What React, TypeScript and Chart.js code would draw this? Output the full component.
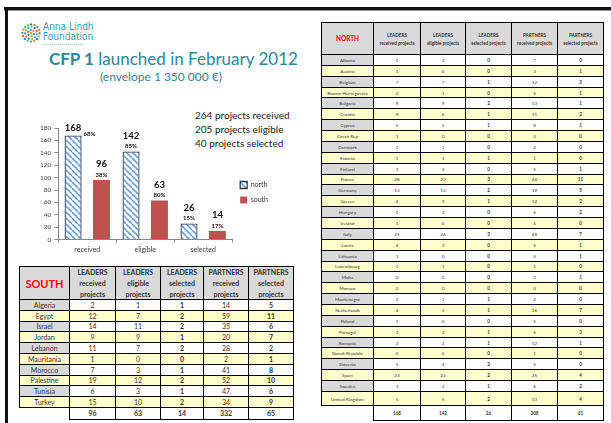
import React, { useEffect, useRef } from 'react';
import { Chart, registerables } from 'chart.js';

Chart.register(...registerables);

// ---------- chart data ----------
const categories = ['received', 'eligible', 'selected'];
const northValues = [168, 142, 26];
const southValues = [96, 63, 14];
const northPct = [68, 85, 15];
const southPct = [38, 80, 17];
const yMin = 0;
const yMax = 180;
const yStep = 20;
const seriesNames = ['north', 'south'];

const summaryLines = ['264 projects received', '205 projects eligible', '40 projects selected'];

// ---------- south table ----------
const southCountries = ['Algeria', 'Egypt', 'Israel', 'Jordan', 'Lebanon', 'Mauritania', 'Morocco', 'Palestine', 'Tunisia', 'Turkey'];
const southLeadersReceived = [2, 12, 14, 9, 11, 1, 7, 19, 6, 15];
const southLeadersEligible = [1, 7, 11, 9, 7, 0, 3, 12, 3, 10];
const southLeadersSelected = [1, 2, 2, 1, 2, 0, 1, 2, 1, 2];
const southPartnersReceived = [14, 59, 35, 20, 28, 2, 41, 52, 47, 34];
const southPartnersSelected = [5, 11, 6, 7, 2, 1, 8, 10, 6, 9];
const southTotals = [96, 63, 14, 332, 65];

// ---------- north table ----------
const northCountries = ['Albania', 'Austria', 'Belgium', 'Bosnia-Herzegovina', 'Bulgaria', 'Croatia', 'Cyprus', 'Czech Rep', 'Denmark', 'Estonia', 'Finland', 'France', 'Germany', 'Greece', 'Hungary', 'Ireland', 'Italy', 'Latvia', 'Lithuania', 'Luxembourg', 'Malta', 'Monaco', 'Montenegro', 'Netherlands', 'Poland', 'Portugal', 'Romania', 'Slovak Republic', 'Slovenia', 'Spain', 'Sweden', 'United Kingdom'];
const northLeadersReceived = [2, 1, 7, 2, 9, 9, 5, 1, 1, 1, 3, 28, 13, 4, 2, 1, 25, 4, 1, 1, 0, 0, 2, 4, 1, 3, 2, 0, 5, 23, 3, 5];
const northLeadersEligible = [2, 0, 7, 1, 9, 6, 5, 0, 1, 1, 2, 22, 12, 3, 2, 0, 24, 3, 0, 1, 0, 0, 1, 3, 0, 2, 2, 0, 4, 22, 2, 5];
const northLeadersSelected = [0, 0, 1, 0, 2, 1, 1, 0, 0, 1, 0, 3, 2, 1, 0, 0, 3, 0, 0, 0, 0, 0, 1, 1, 0, 1, 1, 0, 2, 2, 1, 2];
const northPartnersReceived = [7, 3, 12, 5, 13, 11, 8, 2, 2, 1, 5, 44, 19, 14, 6, 4, 48, 5, 5, 1, 3, 0, 2, 16, 5, 5, 12, 1, 5, 25, 6, 13];
const northPartnersSelected = [0, 1, 3, 1, 1, 2, 1, 0, 0, 0, 1, 11, 5, 2, 2, 0, 7, 1, 1, 0, 1, 0, 0, 7, 0, 3, 1, 0, 0, 4, 2, 4];
const northTotals = [168, 142, 26, 308, 61];

const tableHeadersTop = ['LEADERS', 'LEADERS', 'LEADERS', 'PARTNERS', 'PARTNERS'];
const tableHeadersSub = ['received projects', 'eligible projects', 'selected projects', 'received projects', 'selected projects'];
const boldColumns = [false, false, true, false, true];

const FONT = 'Lato, "Open Sans", "Liberation Sans", sans-serif';
const TEAL = '#31859c';
const GRAY = '#d9d9d9';
const YELLOW = '#ffffcc';

type TableProps = {
  left: number;
  top: number;
  colWidths: number[];
  headerHeight: number;
  rowHeights: number[];
  totalHeight: number;
  title: string;
  titleSize: number;
  headerSize: number;
  headerLine: number;
  headerSplit: boolean;
  cellSize: number;
  countries: string[];
  columns: number[][];
  totals: number[];
};

function DataTable(p: TableProps) {
  const xs: number[] = [p.left];
  p.colWidths.forEach((w, i) => xs.push(xs[i] + w));
  const cells: React.ReactNode[] = [];
  const base: React.CSSProperties = {
    position: 'absolute',
    boxSizing: 'border-box',
    border: '1px solid #000',
    display: 'flex',
    alignItems: 'center',
    justifyContent: 'center',
    textAlign: 'center',
    fontFamily: FONT,
    color: '#333',
    overflow: 'hidden',
    whiteSpace: 'nowrap',
  };
  cells.push(
    <div key="h0" style={{ ...base, left: xs[0], top: p.top, width: p.colWidths[0] + 1, height: p.headerHeight + 1, background: GRAY, color: '#ff0000', fontWeight: 700, fontSize: p.titleSize }}>
      {p.title}
    </div>
  );
  for (let c = 0; c < 5; c++) {
    const sub = p.headerSplit ? tableHeadersSub[c].split(' ') : [tableHeadersSub[c]];
    cells.push(
      <div key={'h' + (c + 1)} style={{ ...base, left: xs[c + 1], top: p.top, width: p.colWidths[c + 1] + 1, height: p.headerHeight + 1, background: GRAY, fontWeight: 700, fontSize: p.headerSize, lineHeight: p.headerLine + 'px', flexDirection: 'column', whiteSpace: 'nowrap' }}>
        <div>{tableHeadersTop[c]}</div>
        {sub.map((s, k) => (
          <div key={k}>{s}</div>
        ))}
      </div>
    );
  }
  let y = p.top + p.headerHeight;
  p.countries.forEach((name, r) => {
    const h = p.rowHeights[r];
    const even = r % 2 === 0;
    cells.push(
      <div key={'n' + r} style={{ ...base, left: xs[0], top: y, width: p.colWidths[0] + 1, height: h + 1, background: even ? GRAY : YELLOW, fontSize: p.cellSize }}>
        {name}
      </div>
    );
    for (let c = 0; c < 5; c++) {
      cells.push(
        <div key={'c' + r + '_' + c} style={{ ...base, left: xs[c + 1], top: y, width: p.colWidths[c + 1] + 1, height: h + 1, background: even ? '#fff' : YELLOW, fontSize: p.cellSize, fontWeight: boldColumns[c] ? 700 : 400 }}>
          {p.columns[c][r]}
        </div>
      );
    }
    y += h;
  });
  for (let c = 0; c < 5; c++) {
    cells.push(
      <div key={'t' + c} style={{ ...base, left: xs[c + 1], top: y, width: p.colWidths[c + 1] + 1, height: p.totalHeight + 1, background: '#fff', fontSize: p.cellSize, fontWeight: 700 }}>
        {p.totals[c]}
      </div>
    );
  }
  return <>{cells}</>;
}

function Logo() {
  const colors = ['#f7931e', '#2aa1b3', '#8cc63f', '#1b75bc', '#f15a24', '#2aa1b3'];
  const dots: React.ReactNode[] = [];
  const rings = [
    { r: 0, n: 1 },
    { r: 3, n: 6 },
    { r: 6, n: 11 },
    { r: 8.6, n: 16 },
  ];
  let k = 0;
  rings.forEach((ring, ri) => {
    for (let i = 0; i < ring.n; i++) {
      const a = (i / ring.n) * Math.PI * 2 + ri * 0.4;
      dots.push(<circle key={k} cx={10 + ring.r * Math.cos(a)} cy={10 + ring.r * Math.sin(a)} r={1.15} fill={colors[k % colors.length]} />);
      k++;
    }
  });
  return (
    <svg width={20} height={20} style={{ position: 'absolute', left: 21, top: 23 }}>
      {dots}
    </svg>
  );
}

function BarChart() {
  const ref = useRef<HTMLCanvasElement | null>(null);
  useEffect(() => {
    const canvas = ref.current;
    if (!canvas) return;
    const pc = document.createElement('canvas');
    pc.width = 6;
    pc.height = 6;
    const pctx = pc.getContext('2d')!;
    pctx.fillStyle = '#ffffff';
    pctx.fillRect(0, 0, 6, 6);
    pctx.strokeStyle = '#6f9fd8';
    pctx.lineWidth = 1.6;
    pctx.beginPath();
    for (const off of [-6, 0, 6]) {
      pctx.moveTo(off, 0);
      pctx.lineTo(off + 6, 6);
    }
    pctx.stroke();
    const hatch = canvas.getContext('2d')!.createPattern(pc, 'repeat')!;

    const pctSets = [northPct, southPct];
    const labelPlugin = {
      id: 'barLabels',
      afterDatasetsDraw(chart: any) {
        const ctx = chart.ctx;
        const area = chart.chartArea;
        ctx.save();
        ctx.fillStyle = '#111';
        ctx.textAlign = 'center';
        ctx.textBaseline = 'middle';
        chart.data.datasets.forEach((ds: any, di: number) => {
          const meta = chart.getDatasetMeta(di);
          meta.data.forEach((bar: any, i: number) => {
            const v = ds.data[i];
            const pct = pctSets[di][i] + '%';
            const compact = bar.y - 20 < area.top;
            ctx.font = `bold 9.5px ${FONT}`;
            ctx.fillText(String(v), bar.x, compact ? bar.y - 8 : bar.y - 16);
            ctx.font = `bold 6px ${FONT}`;
            if (compact) {
              ctx.textAlign = 'left';
              ctx.fillText(pct, bar.x + bar.width / 2 + 2, bar.y - 1);
              ctx.textAlign = 'center';
            } else {
              ctx.fillText(pct, bar.x, bar.y - 5);
            }
          });
        });
        ctx.restore();
      },
    };

    const chart = new Chart(canvas, {
      type: 'bar',
      data: {
        labels: categories,
        datasets: [
          {
            label: seriesNames[0],
            data: northValues,
            backgroundColor: hatch,
            borderColor: '#2b3a55',
            borderWidth: 1.3,
            barPercentage: 0.6,
            categoryPercentage: 0.98,
          },
          {
            label: seriesNames[1],
            data: southValues,
            backgroundColor: '#c0504d',
            borderColor: '#c0504d',
            borderWidth: 0,
            barPercentage: 0.6,
            categoryPercentage: 0.98,
          },
        ],
      },
      options: {
        responsive: false,
        animation: false,
        layout: { padding: { top: 18, left: 37, right: 22, bottom: 5 } },
        plugins: {
          legend: {
            position: 'right',
            labels: {
              boxWidth: 7,
              boxHeight: 7,
              padding: 8,
              color: '#333',
              font: { size: 7, family: FONT },
            },
          },
          tooltip: { enabled: false },
        },
        scales: {
          x: {
            grid: { drawOnChartArea: false, drawTicks: true, tickLength: 3, color: '#888' },
            border: { color: '#888' },
            ticks: { color: '#444', font: { size: 7, family: FONT }, padding: 3 },
          },
          y: {
            min: yMin,
            max: yMax,
            grid: { drawOnChartArea: false, drawTicks: true, tickLength: 4, color: '#888' },
            border: { color: '#888' },
            ticks: { stepSize: yStep, color: '#444', font: { size: 6.5, family: FONT }, padding: 3 },
          },
        },
      },
      plugins: [labelPlugin],
    });
    return () => chart.destroy();
  }, []);
  return <canvas ref={ref} width={300} height={152} style={{ position: 'absolute', left: 0, top: 110 }} />;
}

export default function App() {
  const southRowHeights = southCountries.map(() => 10.8);
  const northRowHeights = northCountries.map((_, i) => (i === northCountries.length - 1 ? 14.5 : 10.87));
  return (
    <div style={{ position: 'fixed', left: 0, top: 0, width: 611, height: 423, background: '#fff', overflow: 'hidden', fontFamily: FONT }}>
      {/* frame */}
      <div style={{ position: 'absolute', left: 4, top: 7, width: 607, height: 3, background: '#111' }} />
      <div style={{ position: 'absolute', left: 4, top: 10, width: 607, height: 1, background: '#999' }} />
      <div style={{ position: 'absolute', left: 5, top: 7, width: 2.5, height: 416, background: '#111' }} />

      {/* logo */}
      <Logo />
      <div style={{ position: 'absolute', left: 43, top: 22, fontFamily: '"Liberation Sans Narrow", "DejaVu Sans Condensed", sans-serif', fontSize: 10, lineHeight: '9.5px', color: '#2ba3b5' }}>
        <div>Anna Lindh</div>
        <div>Foundation</div>
      </div>
      <div style={{ position: 'absolute', left: 44, top: 43.5, width: 39, height: 0, borderTop: '1px dotted #8fcbd4' }} />

      {/* title */}
      <div style={{ position: 'absolute', left: 49, top: 48, fontSize: 17, color: TEAL, whiteSpace: 'nowrap' }}>
        <b>CFP 1</b> launched in February 2012
      </div>
      <div style={{ position: 'absolute', left: 100, top: 69, fontSize: 12, color: TEAL, whiteSpace: 'nowrap' }}>(envelope 1 350 000 €)</div>

      {/* summary */}
      <div style={{ position: 'absolute', left: 195, top: 108, fontSize: 10, lineHeight: '14px', color: '#222', whiteSpace: 'nowrap' }}>
        {summaryLines.map((l, i) => (
          <div key={i}>{l}</div>
        ))}
      </div>

      <BarChart />

      <DataTable
        left={19}
        top={266}
        colWidths={[50, 46, 45, 43, 45, 45]}
        headerHeight={33}
        rowHeights={southRowHeights}
        totalHeight={11.5}
        title="SOUTH"
        titleSize={11}
        headerSize={7}
        headerLine={11}
        headerSplit={true}
        cellSize={7}
        countries={southCountries}
        columns={[southLeadersReceived, southLeadersEligible, southLeadersSelected, southPartnersReceived, southPartnersSelected]}
        totals={southTotals}
      />

      <DataTable
        left={321}
        top={22}
        colWidths={[52, 47, 45, 46, 46, 46]}
        headerHeight={32}
        rowHeights={northRowHeights}
        totalHeight={15}
        title="NORTH"
        titleSize={6.5}
        headerSize={4.6}
        headerLine={8}
        headerSplit={false}
        cellSize={4.6}
        countries={northCountries}
        columns={[northLeadersReceived, northLeadersEligible, northLeadersSelected, northPartnersReceived, northPartnersSelected]}
        totals={northTotals}
      />
    </div>
  );
}
